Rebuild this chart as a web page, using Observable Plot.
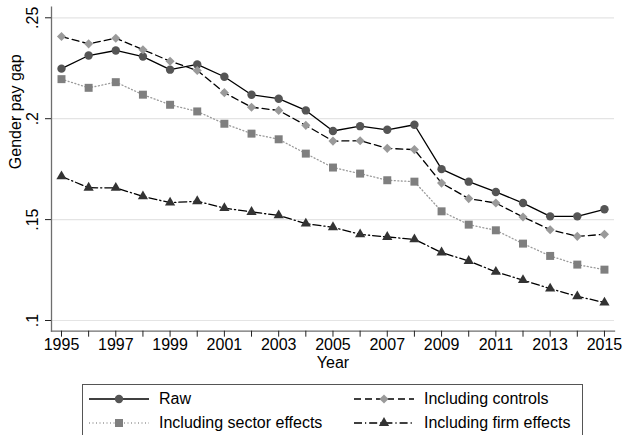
<!DOCTYPE html>
<html>
<head>
<meta charset="utf-8">
<script src="https://cdn.jsdelivr.net/npm/d3@7"></script>
<script src="https://cdn.jsdelivr.net/npm/@observablehq/plot@0.6"></script>
<style>
  html, body { margin: 0; padding: 0; background: #fff; }
  #wrap { position: relative; width: 625px; height: 435px; overflow: hidden; font-family: "Liberation Sans", Arial, sans-serif; }
  #legend { position: absolute; left: 82px; top: 384px; width: 501px; height: 60px; border: 1px solid #555; box-sizing: border-box; background: #fff; }
  .item { position: absolute; height: 20px; display: flex; align-items: center; font-size: 16px; color: #000; }
  .item svg { margin-right: 9px; }
</style>
</head>
<body>
<div id="wrap"><div id="chart"></div><div id="legend"></div></div>
<script>
const years = [1995,1996,1997,1998,1999,2000,2001,2002,2003,2004,2005,2006,2007,2008,2009,2010,2011,2012,2013,2014,2015];
const raw = [0.2248,0.2313,0.2338,0.2308,0.2243,0.2269,0.2208,0.2119,0.2099,0.2041,0.1939,0.1963,0.1945,0.1970,0.1750,0.1688,0.1637,0.1582,0.1516,0.1516,0.1551];
const controls = [0.2407,0.2371,0.2399,0.2342,0.2285,0.2239,0.2129,0.2057,0.2041,0.1967,0.1889,0.1891,0.1853,0.1847,0.1681,0.1604,0.1582,0.1513,0.1450,0.1417,0.1427];
const sector = [0.2196,0.2153,0.2181,0.2119,0.2069,0.2036,0.1975,0.1926,0.1898,0.1827,0.1758,0.1728,0.1695,0.1688,0.1541,0.1475,0.1447,0.1381,0.1320,0.1277,0.1252];
const firm = [0.1714,0.1658,0.1657,0.1615,0.1584,0.1591,0.1557,0.1538,0.1521,0.1480,0.1462,0.1427,0.1414,0.1402,0.1337,0.1295,0.1241,0.1200,0.1158,0.1120,0.1089];
const yTicks = [0.1, 0.15, 0.2, 0.25];
const xLabelYears = [1995,1997,1999,2001,2003,2005,2007,2009,2011,2013,2015];
const seriesNames = ["Raw", "Including controls", "Including sector effects", "Including firm effects"];

const styles = [
  {name: seriesNames[0], values: raw, stroke: "#000", dash: null, symbol: "circle", fill: "#555", r: 4.2},
  {name: seriesNames[1], values: controls, stroke: "#000", dash: "7,4", symbol: "diamond2", fill: "#9a9a9a", r: 4.1},
  {name: seriesNames[2], values: sector, stroke: "#9a9a9a", dash: "1,2.5", symbol: "square", fill: "#7f7f7f", r: 4.5},
  {name: seriesNames[3], values: firm, stroke: "#000", dash: "8,3,1.2,3", symbol: "triangle", fill: "#333", r: 3.8}
];

const marks = [
  Plot.gridY(yTicks, {stroke: "#e4e4e4", strokeOpacity: 1, strokeWidth: 1.2}),
  Plot.frame({anchor: "left", stroke: "#6e6e6e", strokeWidth: 1.3}),
  Plot.frame({anchor: "bottom", stroke: "#6e6e6e", strokeWidth: 1.3}),
  Plot.axisY({ticks: yTicks, tickFormat: d => String(d).replace(/^0/, ""), tickSize: 6, tickPadding: 8, tickRotate: -90, fontSize: 16, stroke: "#222", label: null}),
  Plot.axisX({ticks: years, tickFormat: d => xLabelYears.includes(d) ? String(d) : "", tickSize: 6, tickPadding: 1, fontSize: 16, stroke: "#222", label: null}),
  Plot.text(["Gender pay gap"], {frameAnchor: "left", rotate: -90, dx: -36, fontSize: 16, fill: "#000"}),
  Plot.text(["Year"], {frameAnchor: "bottom", dy: 37, fontSize: 16, fill: "#000"})
];
for (const s of styles) {
  const data = years.map((yr, i) => ({year: yr, value: s.values[i]}));
  marks.push(Plot.line(data, {x: "year", y: "value", stroke: s.stroke, strokeWidth: 1.3, strokeDasharray: s.dash}));
}
for (const s of styles) {
  const data = years.map((yr, i) => ({year: yr, value: s.values[i]}));
  marks.push(Plot.dot(data, {x: "year", y: "value", symbol: s.symbol, fill: s.fill, stroke: "none", r: s.r}));
}

const chart = Plot.plot({
  width: 625, height: 384,
  marginLeft: 51, marginRight: 11, marginTop: 6.6, marginBottom: 53.3,
  style: {fontFamily: "'Liberation Sans', Arial, sans-serif", fontSize: "16px", color: "#000", background: "#fff"},
  x: {type: "linear", domain: [1994.632, 2015.37]},
  y: {domain: [0.0947, 0.2553]},
  marks
});
document.getElementById("chart").appendChild(chart);

// legend
const legend = document.getElementById("legend");
const pos = [{left: 5, top: 4}, {left: 270, top: 4}, {left: 5, top: 28}, {left: 270, top: 28}];
styles.forEach((s, k) => {
  const item = document.createElement("div");
  item.className = "item";
  item.style.left = pos[k].left + "px";
  item.style.top = pos[k].top + "px";
  const svg = d3.create("svg").attr("width", 62).attr("height", 20);
  svg.append("line").attr("x1", 1).attr("x2", 61).attr("y1", 10).attr("y2", 10)
    .attr("stroke", s.stroke).attr("stroke-width", 1.3).attr("stroke-dasharray", s.dash);
  const symMap = {circle: d3.symbolCircle, diamond2: d3.symbolDiamond2, square: d3.symbolSquare, triangle: d3.symbolTriangle};
  svg.append("path").attr("transform", "translate(31,10)")
    .attr("d", d3.symbol(symMap[s.symbol], Math.PI * s.r * s.r)()).attr("fill", s.fill);
  item.appendChild(svg.node());
  const t = document.createElement("span");
  t.textContent = s.name;
  item.appendChild(t);
  legend.appendChild(item);
});
</script>
</body>
</html>
